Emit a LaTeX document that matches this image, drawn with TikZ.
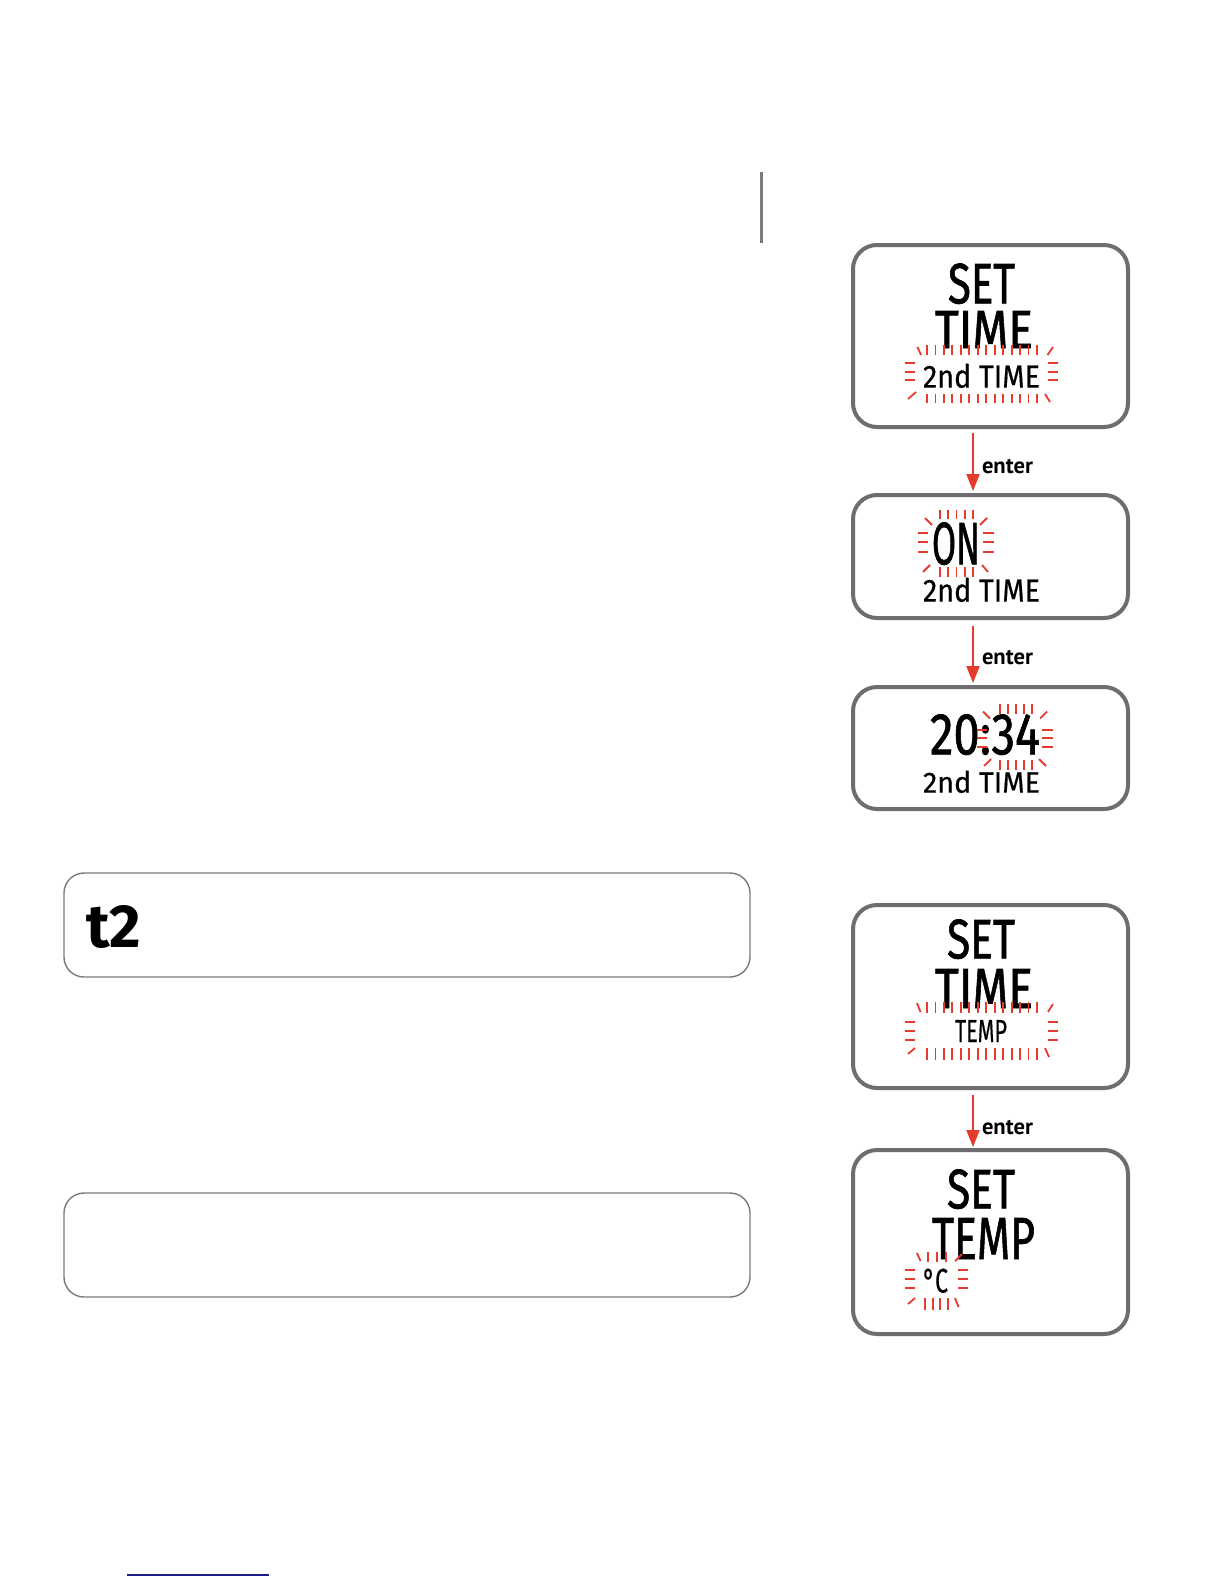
\documentclass[tikz,border=0pt]{standalone}
\usepackage{fontspec}
\usetikzlibrary{arrows.meta}
\newfontfamily\lcdfont{Fira Sans}[FakeBold=1.2]
\newfontfamily\lcdthin{Fira Sans}[FakeBold=0.5]
\newfontfamily\lblfont{PT Sans}
\newfontfamily\headfont{Fira Sans}
\definecolor{lcdgray}{HTML}{6E6E6E}
\definecolor{blinkred}{HTML}{E8392F}
\definecolor{arrowred}{HTML}{E53A2E}
\definecolor{linkblue}{HTML}{1C1C8A}
\definecolor{boxgray}{HTML}{7A7A7A}
\newcommand\tickrow[5]{\foreach \k in {1,...,#3}{\draw[blink] ({#1+(\k-1)*(#2-#1)/(#3-1)},#4) -- ({#1+(\k-1)*(#2-#1)/(#3-1)},#5);}}
\newcommand\dashcol[5]{\foreach \yy in {#3,#4,#5}{\draw[blink] (#1,\yy) -- (#2,\yy);}}
\begin{document}
\begin{tikzpicture}[x=1pt,y=-1pt,
  lcdbox/.style={draw=lcdgray, line width=4pt, rounded corners=24pt, minimum width=275pt, inner sep=0pt, outer sep=0pt},
  infobox/.style={draw=boxgray, line width=1.4pt, rounded corners=20pt, minimum width=686pt, minimum height=104pt, inner sep=0pt, outer sep=0pt},
  blink/.style={draw=blinkred, line width=1.8pt},
  lcdbig/.style={inner sep=0pt, outer sep=0pt, anchor=south west, font=\lcdfont\fontsize{58}{58}\selectfont},
  lcdsmall/.style={inner sep=0pt, outer sep=0pt, anchor=south west, font=\lcdthin\fontsize{36}{36}\selectfont},
  enterarrow/.style={draw=arrowred, line width=2pt, -{Triangle[width=13pt,length=17pt]}},
  enterlbl/.style={inner sep=0pt, outer sep=0pt, anchor=base west, font=\lblfont\bfseries},
]
\useasboundingbox[fill=white] (0,0) rectangle (1224,1584);

% separator rule
\draw[draw=boxgray, line width=3pt] (761.5,172) -- (761.5,243);

% LCD frames
\node[lcdbox, minimum height=182pt] (lcd1) at (990.5,336) {};
\node[lcdbox, minimum height=123pt] (lcd2) at (990.5,556.5) {};
\node[lcdbox, minimum height=122pt] (lcd3) at (990.5,748) {};
\node[lcdbox, minimum height=183pt] (lcd4) at (990.5,996.5) {};
\node[lcdbox, minimum height=184pt] (lcd5) at (990.5,1242) {};

% arrows
\draw[enterarrow] ([xshift=-17.5pt,yshift=-6pt]lcd1.south) -- ([xshift=-17.5pt,yshift=4pt]lcd2.north);
\draw[enterarrow] ([xshift=-17.5pt,yshift=-8pt]lcd2.south) -- ([xshift=-17.5pt,yshift=4pt]lcd3.north);
\draw[enterarrow] ([xshift=-17.5pt,yshift=-7pt]lcd4.south) -- ([xshift=-17.5pt,yshift=3pt]lcd5.north);
\node[enterlbl] (en1) at (982,473) {\resizebox{51pt}{!}{enter}};
\node[enterlbl] (en2) at (982,664) {\resizebox{51pt}{!}{enter}};
\node[enterlbl] (en3) at (982,1134) {\resizebox{51pt}{!}{enter}};

% ---- display 1
\node[lcdbig] (d1a) at (948,304) {\resizebox{67pt}{40pt}{SET}};
\node[lcdbig] (d1b) at (935,348) {\resizebox{98pt}{37pt}{TIME}};
\node[lcdsmall] (d1c) at (923,388) {\resizebox{117pt}{24pt}{2nd TIME}};
\tickrow{927}{1037}{14}{345}{355}
\tickrow{927}{1037}{14}{394}{403}
\dashcol{905}{915}{363}{372}{380}
\dashcol{1048}{1058}{363}{372}{380}
\draw[blink] (917.5,347) -- (921,355);
\draw[blink] (1053,347) -- (1047.5,355);
\draw[blink] (908,399) -- (916,392);
\draw[blink] (1045,394) -- (1050,402);

% ---- display 2
\node[lcdbig] (d2a) at (932,565) {\resizebox{48pt}{42pt}{ON}};
\node[lcdsmall] (d2b) at (923,602) {\resizebox{117pt}{24pt}{2nd TIME}};
\tickrow{940}{973}{5}{510}{519}
\tickrow{940}{973}{5}{567}{577}
\dashcol{918}{928}{533}{542}{552}
\dashcol{983}{994}{533}{542}{552}
\draw[blink] (925,518) -- (932,525);
\draw[blink] (987,518) -- (980,525);
\draw[blink] (923,572) -- (930,565);
\draw[blink] (982,565) -- (988,572);

% ---- display 3
\node[lcdbig] (d3a) at (930,755) {\resizebox{110pt}{40pt}{20:34}};
\node[lcdsmall] (d3b) at (923,793) {\resizebox{117pt}{22pt}{2nd TIME}};
\tickrow{1000}{1032}{5}{704}{714}
\tickrow{1000}{1032}{5}{760}{770}
\dashcol{977}{987}{730}{738}{747}
\dashcol{1042}{1053}{730}{738}{747}
\draw[blink] (983,711.5) -- (990,718.5);
\draw[blink] (1047,711.5) -- (1040,718.5);
\draw[blink] (984,766) -- (991,759);
\draw[blink] (1039,759) -- (1046,766);

% ---- display 4
\node[lcdbig] (d4a) at (947,959) {\resizebox{68pt}{39pt}{SET}};
\node[lcdbig] (d4b) at (935,1008) {\resizebox{98pt}{39pt}{TIME}};
\node[lcdsmall] (d4c) at (955,1042) {\resizebox{52pt}{22pt}{TEMP}};
\tickrow{927}{1037}{14}{1002}{1013}
\tickrow{927}{1037}{14}{1048}{1060}
\dashcol{905}{915}{1022}{1031}{1040}
\dashcol{1048}{1058}{1022}{1031}{1040}
\draw[blink] (917,1003) -- (920.5,1012);
\draw[blink] (1053,1004) -- (1048,1012);
\draw[blink] (908,1054) -- (915,1048);
\draw[blink] (1045,1048) -- (1049,1057);

% ---- display 5
\node[lcdbig] (d5a) at (947,1209) {\resizebox{68pt}{39pt}{SET}};
\node[lcdbig] (d5b) at (932,1259) {\resizebox{103pt}{41pt}{TEMP}};
\node[lcdsmall] (d5c) at (923,1293) {\resizebox{25pt}{24pt}{°C}};
\tickrow{928}{946}{3}{1252}{1262}
\tickrow{925}{948}{4}{1298}{1310}
\dashcol{905}{915}{1270}{1279}{1288}
\dashcol{958}{968}{1270}{1279}{1288}
\draw[blink] (917,1253) -- (920.5,1261);
\draw[blink] (962,1254) -- (955,1261);
\draw[blink] (908,1304) -- (915,1298);
\draw[blink] (955,1298) -- (958.5,1307);

% ---- left info boxes
\node[infobox] (info1) at (407,925) {};
\node[infobox] (info2) at (407,1245) {};
\node[inner sep=0pt, outer sep=0pt, anchor=south west, font=\headfont\bfseries\fontsize{60}{60}\selectfont] (t2lbl) at (86,949) {\resizebox{55pt}{42pt}{t2}};

% bottom rule
\draw[draw=linkblue, line width=1.2pt] (127,1575) -- (269,1575);
\end{tikzpicture}
\end{document}
